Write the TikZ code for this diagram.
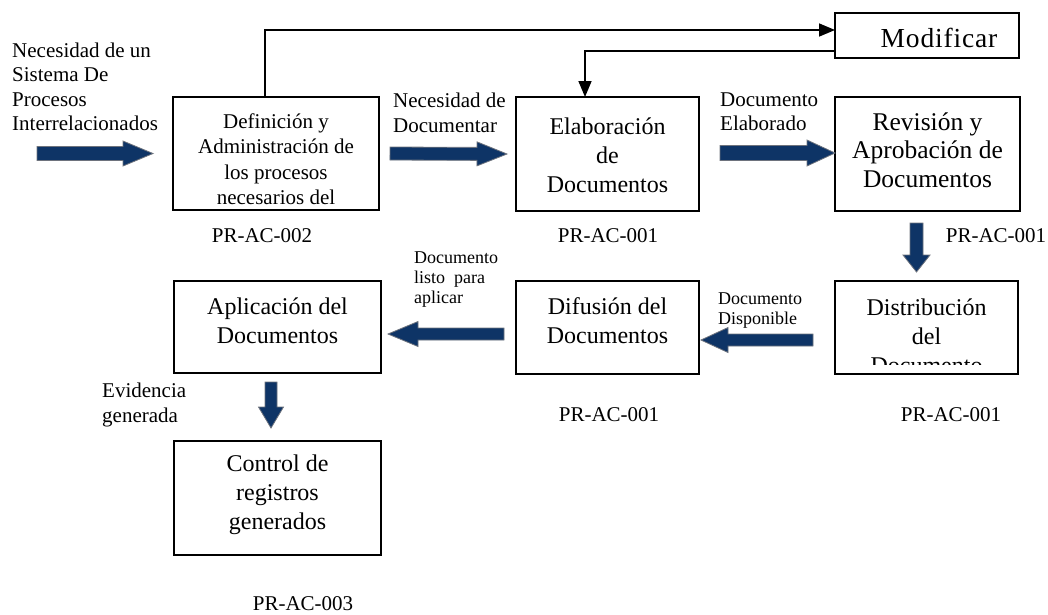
\documentclass[tikz,border=0pt]{standalone}
\usepackage{fontspec}
\setmainfont{Liberation Serif}
\usetikzlibrary{calc,arrows.meta}
\definecolor{navy}{RGB}{14,52,102}
\definecolor{arrowedge}{RGB}{110,115,125}
\tikzset{
  box/.style={draw, line width=1.6pt, inner sep=0pt, outer sep=0pt},
  boxtext/.style={align=center, inner sep=0pt, font=\fontsize{24}{29}\selectfont},
  lbl/.style={align=left, inner sep=0pt, font=\fontsize{21}{24.5}\selectfont},
  small/.style={align=left, inner sep=0pt, font=\fontsize{18}{20}\selectfont},
  code/.style={inner sep=0pt, font=\fontsize{21}{24}\selectfont},
  conn/.style={line width=1.6pt, -{Triangle[length=16pt,width=13pt]}},
  fat/.style={fill=navy, draw=arrowedge, line width=0.8pt}
}
\newcommand\fatarrow[5]{%
  \path ($(#2)!#3!(#1)$) coordinate (fh);
  \filldraw[fat] ($(#1)!#4!90:(#2)$) -- ($(fh)!#4!90:(#2)$) -- ($(fh)!#5!90:(#2)$) -- (#2)
    -- ($(fh)!#5!-90:(#2)$) -- ($(fh)!#4!-90:(#2)$) -- ($(#1)!#4!-90:(#2)$) -- cycle;}
\begin{document}
\begin{tikzpicture}[x=1pt,y=-1pt]
\useasboundingbox (0,0) rectangle (1048,614);
% boxes
\node[box, minimum width=206pt, minimum height=113pt] (def) at (276,153.5) {};
\node[box, minimum width=183pt, minimum height=114pt] (elab) at (607.5,154) {};
\node[box, minimum width=185pt, minimum height=114pt] (rev) at (927.5,154) {};
\node[box, minimum width=184pt, minimum height=45pt] (mod) at (927,35.5) {};
\node[box, minimum width=183pt, minimum height=93pt] (dist) at (926.5,327.5) {};
\node[box, minimum width=183pt, minimum height=93pt] (dif) at (607.5,327.5) {};
\node[box, minimum width=207pt, minimum height=92pt] (apl) at (277.5,327) {};
\node[box, minimum width=207pt, minimum height=114pt] (ctrl) at (277.5,498) {};
% box texts
\node[boxtext, font=\fontsize{21}{25.5}\selectfont] (tdef) at (276,159) {Definición y\\Administración de\\los procesos\\necesarios del};
\node[boxtext] (telab) at (607.5,155.5) {Elaboración\\de\\Documentos};
\node[boxtext, font=\fontsize{25.5}{28.5}\selectfont] (trev) at (927.5,150) {Revisión y\\Aprobación de\\Documentos};
\node[boxtext, font=\fontsize{27.5}{30}\selectfont\addfontfeature{LetterSpace=3}] (tmod) at (939,38) {Modificar};
\begin{scope}
  \clip (835,281) rectangle (1018,364);
  \node[boxtext] (tdist) at (926.5,336) {Distribución\\del\\Documento};
\end{scope}
\node[boxtext] (tdif) at (607.5,320.5) {Difusión del\\Documentos};
\node[boxtext] (tapl) at (277.5,321) {Aplicación del\\Documentos};
\node[boxtext] (tctrl) at (277.5,495) {Control de\\registros\\generados};
% labels
\node[lbl, anchor=west] (l1) at (12,87) {Necesidad de un\\Sistema De\\Procesos\\Interrelacionados};
\node[lbl, anchor=west] (l2) at (393,113) {Necesidad de\\Documentar};
\node[lbl, anchor=west] (l3) at (720,111.5) {Documento\\Elaborado};
\node[small, anchor=west] (l4) at (414,280) {Documento\\listo\ \ para\\aplicar};
\node[small, anchor=west] (l5) at (718,311) {Documento\\Disponible};
\node[lbl, anchor=west] (l6) at (102,405) {Evidencia\\generada};
% codes
\node[code] (p1) at (262,236) {PR-AC-002};
\node[code] (p2) at (608,236) {PR-AC-001};
\node[code] (p3) at (996,236) {PR-AC-001};
\node[code] (p4) at (609,415) {PR-AC-001};
\node[code] (p5) at (951,415) {PR-AC-001};
\node[code] (p6) at (303,604) {PR-AC-003};
% thin connectors
\draw[conn] ($(def.north west)+(92,0)$) |- ($(mod.west)+(0,-5.5)$);
\draw[conn] ($(mod.west)+(0,15.5)$) -| ($(elab.north west)+(69,0)$);
% fat arrows
\coordinate (a1s) at (37,153.5);
\coordinate (a1e) at ($(def.west)+(-20,0)$);
\fatarrow{a1s}{a1e}{30pt}{7pt}{12.5pt}
\coordinate (a2s) at ($(def.east)+(11,0)$);
\coordinate (a2e) at ($(elab.west)+(-9,0)$);
\fatarrow{a2s}{a2e}{30pt}{6.5pt}{12pt}
\coordinate (a3s) at ($(elab.east)+(21,-1)$);
\coordinate (a3e) at ($(rev.west)+(0,-1)$);
\fatarrow{a3s}{a3e}{28pt}{7.5pt}{13pt}
\coordinate (a4s) at ($(rev.south)+(-11,12)$);
\coordinate (a4e) at ($(dist.north)+(-10,-9)$);
\fatarrow{a4s}{a4e}{17pt}{6.5pt}{13.5pt}
\coordinate (a5s) at ($(dist.west)+(-22,12.5)$);
\coordinate (a5e) at ($(dif.east)+(2,12.5)$);
\fatarrow{a5s}{a5e}{27pt}{6pt}{12.5pt}
\coordinate (a6s) at ($(dif.west)+(-12,6.5)$);
\coordinate (a6e) at ($(apl.east)+(7,7)$);
\fatarrow{a6s}{a6e}{30pt}{6pt}{12.5pt}
\coordinate (a7s) at ($(apl.south)+(-6.5,9)$);
\coordinate (a7e) at ($(ctrl.north)+(-6.5,-13)$);
\fatarrow{a7s}{a7e}{21pt}{6pt}{12.5pt}
\end{tikzpicture}
\end{document}
